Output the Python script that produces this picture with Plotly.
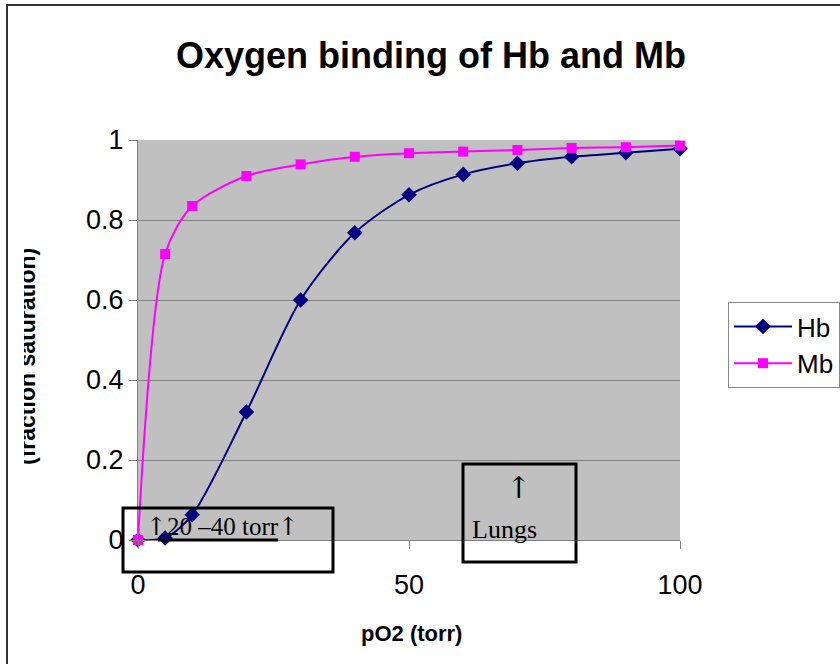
import plotly.graph_objects as go

po2 = [0, 5, 10, 20, 30, 40, 50, 60, 70, 80, 90, 100]
hb = [0.0, 0.005, 0.063, 0.32, 0.60, 0.768, 0.863, 0.914, 0.942, 0.958, 0.968, 0.978]
mb = [0.0, 0.715, 0.835, 0.91, 0.939, 0.958, 0.967, 0.971, 0.975, 0.98, 0.982, 0.986]

W, H = 840, 664
L, R, T, B = 138, 160, 140, 124
PW, PH = W - L - R, H - T - B


def px(x):
    return (x - L) / PW


def py(y):
    return (H - B - y) / PH


fig = go.Figure()
fig.add_trace(go.Scatter(
    x=po2, y=hb, name="Hb", mode="lines+markers",
    line=dict(color="#000080", width=2, shape="spline", smoothing=0.8),
    marker=dict(symbol="diamond", size=12, color="#000080"),
    cliponaxis=False,
))
fig.add_trace(go.Scatter(
    x=po2, y=mb, name="Mb", mode="lines+markers",
    line=dict(color="#FF00FF", width=2, shape="spline", smoothing=0.8),
    marker=dict(symbol="square", size=10, color="#FF00FF"),
    cliponaxis=False,
))

serif = "Liberation Serif, Times New Roman, serif"
arrow = '<span style="font-family:DejaVu Serif">↑</span>'
shapes = [
    # outer frame
    dict(type="line", xref="paper", yref="paper", x0=px(7), x1=px(7), y0=py(4), y1=py(670),
         line=dict(color="#333333", width=2)),
    dict(type="line", xref="paper", yref="paper", x0=px(6), x1=px(845), y0=py(5), y1=py(5),
         line=dict(color="#333333", width=2)),
    # 20-40 torr box
    dict(type="rect", xref="paper", yref="paper", x0=px(123), x1=px(333), y0=py(572), y1=py(508),
         line=dict(color="black", width=3), layer="above"),
    dict(type="line", xref="paper", yref="paper", x0=px(158), x1=px(278), y0=py(540), y1=py(540),
         line=dict(color="black", width=3), layer="above"),
    # Lungs box
    dict(type="rect", xref="paper", yref="paper", x0=px(463), x1=px(576), y0=py(562), y1=py(464),
         line=dict(color="black", width=3), layer="above"),
]

annotations = [
    dict(text="(fraction saturation)", textangle=-90, xref="paper", yref="paper",
         x=px(27), y=py(357), xanchor="center", yanchor="middle", showarrow=False,
         font=dict(family="Arial, Liberation Sans", size=23, color="black", weight="bold")),
    dict(text="&#160;", xref="paper", yref="paper", x=px(16.5), y=py(357), xanchor="center",
         yanchor="middle", showarrow=False, width=15, height=330, bgcolor="white",
         borderpad=0, borderwidth=0, font=dict(size=10)),
    dict(text="pO2 (torr)", xref="paper", yref="paper", x=px(411), y=py(633),
         xanchor="center", yanchor="middle", showarrow=False,
         font=dict(family="Arial, Liberation Sans", size=22, color="black", weight="bold")),
    dict(text=arrow + "20 –40 torr" + arrow, xref="paper", yref="paper", x=px(144), y=py(526),
         xanchor="left", yanchor="middle", showarrow=False,
         font=dict(family=serif, size=25, color="black")),
    dict(text=arrow, xref="paper", yref="paper", x=px(518), y=py(487),
         xanchor="center", yanchor="middle", showarrow=False,
         font=dict(family=serif, size=30, color="black")),
    dict(text="Lungs", xref="paper", yref="paper", x=px(504), y=py(529),
         xanchor="center", yanchor="middle", showarrow=False,
         font=dict(family=serif, size=26, color="black")),
]

fig.update_layout(
    width=W, height=H,
    margin=dict(l=L, r=R, t=T, b=B, pad=0, autoexpand=False),
    paper_bgcolor="white", plot_bgcolor="#C0C0C0",
    title=dict(text="<b>Oxygen binding of Hb and Mb</b>", x=431 / W, xanchor="center",
               y=1 - 55 / H, yanchor="middle",
               font=dict(family="Arial, Liberation Sans", size=36, color="black")),
    font=dict(family="Arial, Liberation Sans", color="black"),
    showlegend=True,
    legend=dict(x=px(728), y=py(302), xanchor="left", yanchor="top",
                bgcolor="white", bordercolor="#888888", borderwidth=1,
                font=dict(size=26, color="black"), itemwidth=58,
                tracegroupgap=0),
    shapes=shapes,
    annotations=annotations,
)
fig.update_xaxes(range=[0, 100], tickvals=[0, 50, 100], ticks="outside", ticklen=8,
                 tickcolor="#808080", showgrid=False, showline=True, linecolor="#808080",
                 linewidth=1, zeroline=False, ticklabelstandoff=13,
                 tickfont=dict(size=27, color="black"))
fig.update_yaxes(range=[0, 1], tickvals=[0, 0.2, 0.4, 0.6, 0.8, 1],
                 ticktext=["0", "0.2", "0.4", "0.6", "0.8", "1"], ticks="outside", ticklen=8,
                 tickcolor="#808080", showgrid=True, gridcolor="#808080", gridwidth=1,
                 showline=True, linecolor="#808080", linewidth=1, zeroline=False,
                 tickfont=dict(size=27, color="black"))

fig.write_html("out.html")
